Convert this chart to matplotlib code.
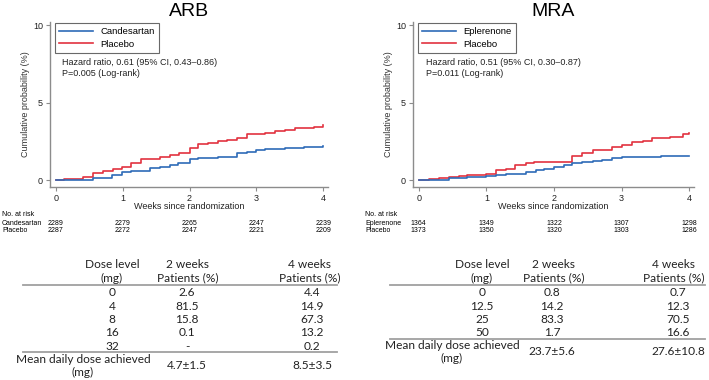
import matplotlib
matplotlib.use("Agg")
import matplotlib.pyplot as plt
from matplotlib import transforms
from matplotlib.lines import Line2D

W, H = 709, 380

### step curves (weeks, cumulative %)
arb_pla_t = [0, 0.13, 0.41, 0.56, 0.71, 0.86, 0.99, 1.13, 1.28, 1.56, 1.71, 1.85, 2.0, 2.13,
             2.28, 2.43, 2.56, 2.71, 2.86, 3.13, 3.28, 3.43, 3.58, 3.86, 4.0]
arb_pla_y = [0, 0.06, 0.2, 0.43, 0.6, 0.69, 0.86, 1.1, 1.33, 1.46, 1.6, 1.76, 2.04, 2.32,
             2.4, 2.5, 2.58, 2.69, 2.95, 3.05, 3.16, 3.2, 3.33, 3.44, 3.55]
arb_drug_t = [0, 0.56, 0.84, 0.99, 1.13, 1.41, 1.56, 1.71, 1.83, 2.0, 2.13, 2.43, 2.71, 2.86,
              3.0, 3.13, 3.43, 3.71, 3.86, 4.0]
arb_drug_y = [0, 0.15, 0.32, 0.5, 0.58, 0.75, 0.86, 0.97, 1.08, 1.33, 1.44, 1.5, 1.72, 1.83,
              1.94, 1.98, 2.04, 2.1, 2.15, 2.17]

mra_pla_t = [0, 0.15, 0.3, 0.45, 0.6, 0.72, 0.99, 1.14, 1.29, 1.43, 1.58, 1.7, 2.27, 2.42,
             2.57, 2.86, 3.01, 3.16, 3.31, 3.45, 3.72, 3.9, 4.0]
mra_pla_y = [0, 0.06, 0.13, 0.2, 0.28, 0.32, 0.39, 0.65, 0.7, 0.95, 1.12, 1.18, 1.55, 1.76,
             1.94, 2.15, 2.26, 2.43, 2.54, 2.69, 2.8, 2.97, 3.01]
mra_drug_t = [0, 0.45, 0.72, 0.99, 1.14, 1.29, 1.58, 1.73, 1.85, 2.0, 2.15, 2.27, 2.42, 2.57,
              2.71, 2.86, 3.01, 3.58, 4.0]
mra_drug_y = [0, 0.12, 0.2, 0.26, 0.32, 0.4, 0.54, 0.65, 0.71, 0.86, 0.97, 1.12, 1.18, 1.23,
              1.29, 1.4, 1.5, 1.55, 1.55]

weeks = [0, 1, 2, 3, 4]
arb_risk_drug = [2289, 2279, 2265, 2247, 2239]
arb_risk_pla = [2287, 2272, 2247, 2221, 2209]
mra_risk_drug = [1364, 1349, 1322, 1307, 1298]
mra_risk_pla = [1373, 1350, 1320, 1303, 1286]

### dose tables
arb_dose = ["0", "4", "8", "16", "32"]
arb_2wk = ["2.6", "81.5", "15.8", "0.1", "-"]
arb_4wk = ["4.4", "14.9", "67.3", "13.2", "0.2"]
arb_mean = ["4.7\u00b11.5", "8.5\u00b13.5"]

mra_dose = ["0", "12.5", "25", "50"]
mra_2wk = ["0.8", "14.2", "83.3", "1.7"]
mra_4wk = ["0.7", "12.3", "70.5", "16.6"]
mra_mean = ["23.7\u00b15.6", "27.6\u00b110.8"]

BLUE = "#2e6bb8"
RED = "#e2323f"
GREY = "#8c8c8c"

fig = plt.figure(figsize=(W / 100, H / 100), dpi=100)
plt.rcParams['font.family'] = ['Liberation Sans', 'DejaVu Sans']


def px(x, y):
    # pixel (from top-left) -> figure fraction
    return x / W, 1 - y / H


def km_panel(left, width, title, drug, t1, y1, t2, y2, hr, p, risk1, risk2):
    ax = fig.add_axes([left / W, (H - 187) / H, width / W, 165 / H])
    ax.step(t2, y2, where="post", color=RED, lw=1.2)
    ax.step(t1, y1, where="post", color=BLUE, lw=1.2)
    ax.set_xlim(-0.085, 4.07)
    ax.set_ylim(-0.45, 10.2)
    ax.set_xticks(weeks)
    ax.set_yticks([0, 5, 10])
    for s in ["top", "right"]:
        ax.spines[s].set_visible(False)
    for s in ["left", "bottom"]:
        ax.spines[s].set_color(GREY)
        ax.spines[s].set_linewidth(1.0)
    ax.tick_params(colors=GREY, labelcolor="#222222", labelsize=6.5, length=3, width=0.8, pad=2)
    ax.set_title(title, fontsize=14, pad=4)
    ax.set_ylabel("Cumulative probability (%)", fontsize=6.5, color="#333333", labelpad=2)
    ax.set_xlabel("Weeks since randomization", fontsize=6.5, color="#222222", labelpad=-1)
    handles = [Line2D([], [], color=BLUE, lw=1.2), Line2D([], [], color=RED, lw=1.2)]
    leg = ax.legend(handles, [drug, "Placebo"], loc="upper left", bbox_to_anchor=(0.01, 1.005),
                    fontsize=6.8, frameon=True, fancybox=False, handlelength=3.6,
                    borderpad=0.45, labelspacing=0.35, handletextpad=0.8, borderaxespad=0.2)
    leg.get_frame().set_edgecolor("#444444")
    leg.get_frame().set_linewidth(0.8)
    ax.text(0.1, 7.6, hr, fontsize=6.5, color="#222222", va="center")
    ax.text(0.1, 6.85, p, fontsize=6.5, color="#222222", va="center")
    tr = transforms.blended_transform_factory(ax.transData, fig.transFigure)
    fig.text(*px(left - 32, 215), "No. at risk", fontsize=5, ha="center", va="center")
    fig.text(*px(left - 48, 223), drug, fontsize=5, ha="left", va="center")
    fig.text(*px(left - 48, 231), "Placebo", fontsize=5, ha="left", va="center")
    for w, a, b in zip(weeks, risk1, risk2):
        ax.text(w, 1 - 223 / H, str(a), transform=tr, fontsize=5, ha="center", va="center")
        ax.text(w, 1 - 231 / H, str(b), transform=tr, fontsize=5, ha="center", va="center")
    return ax


km_panel(50, 278, "ARB", "Candesartan", arb_drug_t, arb_drug_y, arb_pla_t, arb_pla_y,
         "Hazard ratio, 0.61 (95% CI, 0.43\u20130.86)", "P=0.005 (Log-rank)",
         arb_risk_drug, arb_risk_pla)
km_panel(413, 281, "MRA", "Eplerenone", mra_drug_t, mra_drug_y, mra_pla_t, mra_pla_y,
         "Hazard ratio, 0.51 (95% CI, 0.30\u20130.87)", "P=0.011 (Log-rank)",
         mra_risk_drug, mra_risk_pla)


def hline(x0, x1, y):
    fig.add_artist(Line2D([x0 / W, x1 / W], [1 - y / H, 1 - y / H], color="#a0a0a0", lw=1.3))


def table(x0, x1, cx, rows, c2, c4, mean, mean_x, vx2, vx4):
    tf = dict(fontsize=8.6, family=["Lato", "DejaVu Sans"], ha="center", va="center", color="#222222")
    fig.text(*px(cx[0], 265), "Dose level", **tf)
    fig.text(*px(cx[0], 278), "(mg)", **tf)
    fig.text(*px(cx[1], 265), "2 weeks", **tf)
    fig.text(*px(cx[1], 278), "Patients (%)", **tf)
    fig.text(*px(cx[2], 265), "4 weeks", **tf)
    fig.text(*px(cx[2], 278), "Patients (%)", **tf)
    hline(x0, x1, 285)
    y = 293
    for d, a, b in zip(rows, c2, c4):
        fig.text(*px(cx[0], y), d, **tf)
        fig.text(*px(vx2, y), a, **tf)
        fig.text(*px(vx4, y), b, **tf)
        y += 13.3
    yl = y - 13.3 + 6
    hline(x0, x1, yl)
    fig.text(*px(mean_x, yl + 7), "Mean daily dose achieved", **tf)
    fig.text(*px(mean_x, yl + 20), "(mg)", **tf)
    fig.text(*px(vx2, yl + 13), mean[0], **tf)
    fig.text(*px(vx4, yl + 13), mean[1], **tf)


table(23, 337, [112, 188, 310], arb_dose, arb_2wk, arb_4wk, arb_mean, 83, 187, 312)
table(390, 705, [482, 554, 674], mra_dose, mra_2wk, mra_4wk, mra_mean, 452, 552, 678)

fig.savefig("out.png", dpi=100)
